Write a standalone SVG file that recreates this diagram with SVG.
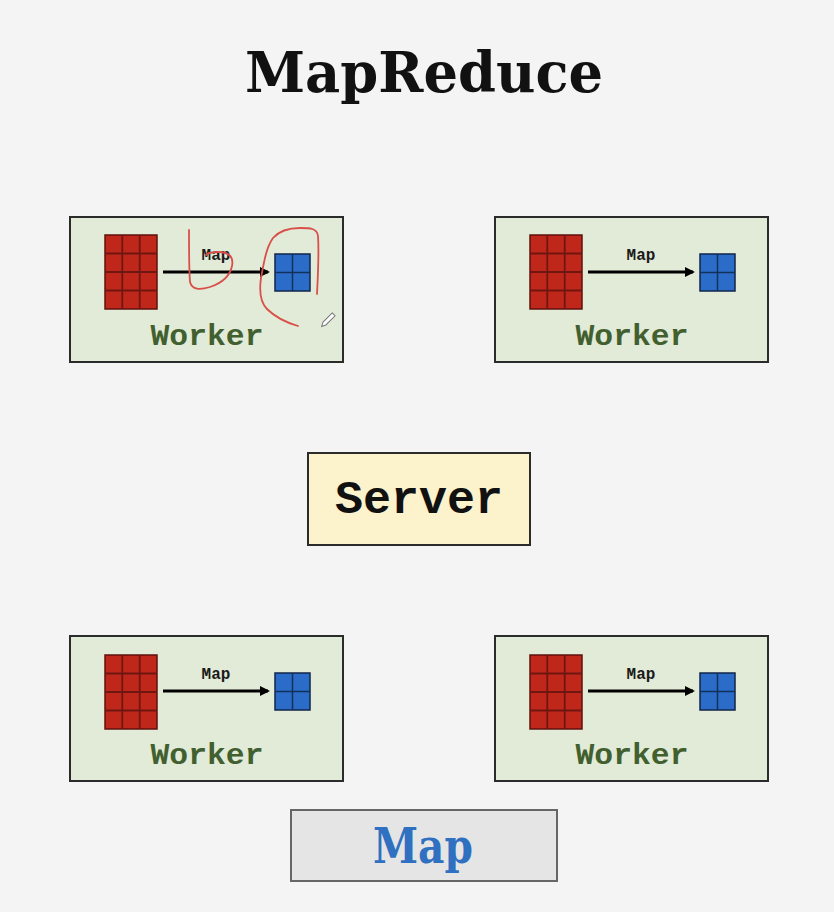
<svg xmlns="http://www.w3.org/2000/svg" xmlns:xlink="http://www.w3.org/1999/xlink" width="834" height="912" viewBox="0 0 834 912">
<style>
.worker{fill:#e2ebd8;stroke:#2b2b2b;stroke-width:2}
.wlabel{font-family:"Liberation Mono","Courier New",monospace;font-weight:bold;font-size:30px;fill:#42602f;text-anchor:middle}
.mlabel{font-family:"Liberation Mono","Courier New",monospace;font-weight:bold;font-size:16px;fill:#1a1a1a;text-anchor:middle}
.arrow{stroke:#000;stroke-width:3;fill:none}
.ink{stroke:#d9504a;stroke-width:1.8;fill:none;stroke-linecap:round;stroke-linejoin:round}
</style>
<defs>
<marker id="ah" markerWidth="10" markerHeight="10" refX="8" refY="5" orient="auto" markerUnits="userSpaceOnUse">
<path d="M0,0 L10,5 L0,10 Z" fill="#000"/>
</marker>
<g id="redgrid">
<rect x="0" y="0" width="52" height="74" fill="#c0271b" stroke="#5e120c" stroke-width="1.5"/>
<path d="M17.3,0V74M34.7,0V74M0,18.5H52M0,37H52M0,55.5H52" stroke="#6e160f" stroke-width="1.8"/>
</g>
<g id="bluegrid">
<rect x="0" y="0" width="35" height="37" fill="#2a6cc7" stroke="#10264a" stroke-width="1.5"/>
<path d="M17.5,0V37M0,18.5H35" stroke="#13305c" stroke-width="1.5"/>
</g>
</defs>
<rect width="834" height="912" fill="#f4f4f4"/>
<text x="424" y="92" font-family="DejaVu Serif, serif" font-weight="bold" font-size="56" fill="#111" text-anchor="middle" textLength="358" lengthAdjust="spacingAndGlyphs">MapReduce</text>

<g id="worker1">
<rect class="worker" x="70" y="217" width="273" height="145"/>
<use xlink:href="#redgrid" x="105" y="235"/>
<use xlink:href="#bluegrid" x="275" y="254"/>
<text class="mlabel" x="216" y="260">Map</text>
<text class="wlabel" x="207" y="345" textLength="113" lengthAdjust="spacingAndGlyphs">Worker</text>
</g>
<g id="worker2">
<rect class="worker" x="495" y="217" width="273" height="145"/>
<use xlink:href="#redgrid" x="530" y="235"/>
<use xlink:href="#bluegrid" x="700" y="254"/>
<text class="mlabel" x="641" y="260">Map</text>
<text class="wlabel" x="632" y="345" textLength="113" lengthAdjust="spacingAndGlyphs">Worker</text>
</g>
<g id="worker3">
<rect class="worker" x="70" y="636" width="273" height="145"/>
<use xlink:href="#redgrid" x="105" y="655"/>
<use xlink:href="#bluegrid" x="275" y="673"/>
<text class="mlabel" x="216" y="679">Map</text>
<text class="wlabel" x="207" y="764" textLength="113" lengthAdjust="spacingAndGlyphs">Worker</text>
</g>
<g id="worker4">
<rect class="worker" x="495" y="636" width="273" height="145"/>
<use xlink:href="#redgrid" x="530" y="655"/>
<use xlink:href="#bluegrid" x="700" y="673"/>
<text class="mlabel" x="641" y="679">Map</text>
<text class="wlabel" x="632" y="764" textLength="113" lengthAdjust="spacingAndGlyphs">Worker</text>
</g>
<g id="server">
<rect x="308" y="453" width="222" height="92" fill="#fcf2cc" stroke="#2b2b2b" stroke-width="2"/>
<text x="419" y="513" font-family="Liberation Mono, monospace" font-weight="bold" font-size="46" fill="#111" text-anchor="middle" textLength="168" lengthAdjust="spacingAndGlyphs">Server</text>
</g>
<g id="mapbox">
<rect x="291" y="810" width="266" height="71" fill="#e5e5e5" stroke="#666" stroke-width="2"/>
<text x="423" y="863" font-family="DejaVu Serif, serif" font-weight="bold" font-size="48" fill="#2f70c0" text-anchor="middle" textLength="100" lengthAdjust="spacingAndGlyphs">Map</text>
</g>

<g id="connectors">
<line class="arrow" x1="163" y1="272" x2="268" y2="272" marker-end="url(#ah)"/>
<line class="arrow" x1="588" y1="272" x2="693" y2="272" marker-end="url(#ah)"/>
<line class="arrow" x1="163" y1="691" x2="268" y2="691" marker-end="url(#ah)"/>
<line class="arrow" x1="588" y1="691" x2="693" y2="691" marker-end="url(#ah)"/>
</g>

<g id="annotations">
<path class="ink" d="M189,230 C189,250 189,270 190,282 C192,290 200,290 210,287 C222,283 230,276 232,266 C234,256 228,252 218,252 C212,252 208,253 206,255"/>
<path class="ink" d="M317,294 C318,275 319,250 318,236 C317,228 310,228 300,228 C290,228 280,230 273,238 C266,248 264,262 261,278 C259,292 261,303 267,309 C276,318 288,323 298,326"/>
<g transform="translate(328,320) rotate(45)">
<path d="M-2,-8 L2,-8 L2,5 L0,9 L-2,5 Z" fill="#fff" stroke="#777" stroke-width="1"/>
</g>
</g>
</svg>
